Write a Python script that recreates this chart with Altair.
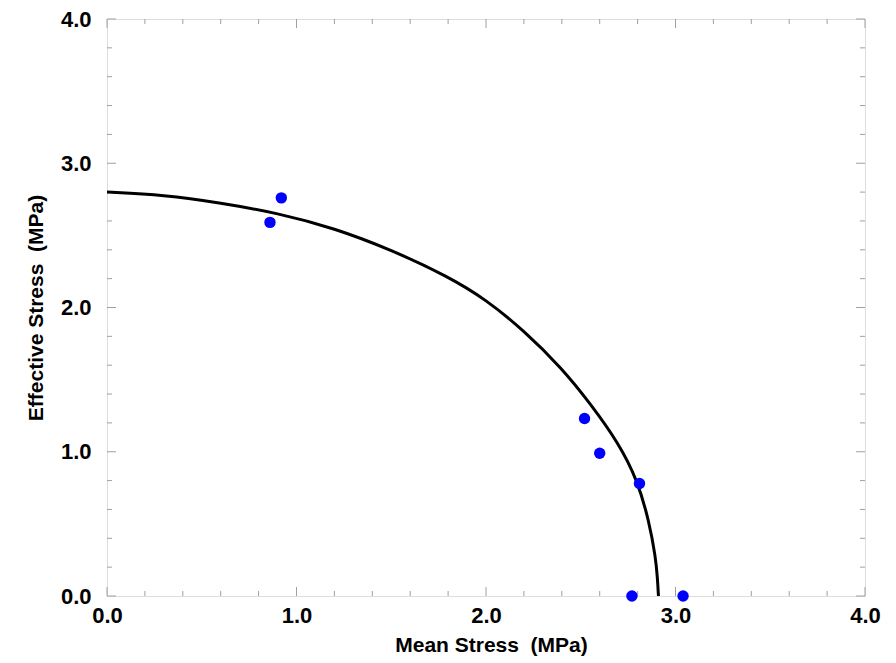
import altair as alt
import pandas as pd

# Yield-surface curve
curve_x = [0.0, 0.3, 0.6, 0.9, 1.2, 1.5, 1.8, 2.0, 2.2, 2.4, 2.55, 2.7, 2.8, 2.86, 2.895, 2.905, 2.91]
curve_y = [2.80, 2.78, 2.725, 2.655, 2.55, 2.40, 2.215, 2.055, 1.84, 1.58, 1.335, 1.06, 0.80, 0.52, 0.27, 0.12, 0.0]

# Measured points
pt_x = [0.86, 0.92, 2.52, 2.60, 2.81, 2.77, 3.04]
pt_y = [2.59, 2.76, 1.23, 0.99, 0.78, 0.0, 0.0]

major_ticks = [0.0, 1.0, 2.0, 3.0, 4.0]
minor_ticks = [0.2, 0.4, 0.6, 0.8, 1.2, 1.4, 1.6, 1.8, 2.2, 2.4, 2.6, 2.8, 3.2, 3.4, 3.6, 3.8]

W, H = 758, 577
FONT = "Liberation Sans"
GRAY = "#a0a0a0"
NB = "\u00a0"

curve = pd.DataFrame({"x": curve_x, "y": curve_y})
pts = pd.DataFrame({"x": pt_x, "y": pt_y})
maj = pd.DataFrame({"v": major_ticks})
mnr = pd.DataFrame({"v": minor_ticks})

xs = alt.Scale(domain=[0, 4], nice=False, zero=False)
ys = alt.Scale(domain=[0, 4], nice=False, zero=False)

xaxis = alt.Axis(
    title="Mean Stress" + NB + NB + "(MPa)", values=major_ticks, format=".1f", grid=False,
    ticks=False, domain=False, labelFont=FONT, labelFontSize=22, labelFontWeight="bold",
    labelColor="black", labelPadding=9, titleFont=FONT, titleFontSize=21,
    titleFontWeight="bold", titleColor="black", titleBaseline="alphabetic",
    titleY=55, titleX=384, labelFlush=False, labelOverlap=False,
)
yaxis = alt.Axis(
    title="Effective Stress" + NB + NB + "(MPa)", values=major_ticks, format=".1f", grid=False,
    ticks=False, domain=False, labelFont=FONT, labelFontSize=22, labelFontWeight="bold",
    labelColor="black", labelPadding=16, titleFont=FONT, titleFontSize=21,
    titleFontWeight="bold", titleColor="black", titleBaseline="alphabetic",
    titleX=-65, titleY=H / 2, titleAngle=-90, titleAlign="center",
    labelFlush=False, labelOverlap=False,
)

line = alt.Chart(curve).mark_line(color="black", strokeWidth=3, interpolate="basis").encode(
    x=alt.X("x:Q", scale=xs, axis=xaxis),
    y=alt.Y("y:Q", scale=ys, axis=yaxis),
    order="x:Q",
)

dots = alt.Chart(pts).mark_circle(color="#0000ff", size=130, opacity=1).encode(
    x=alt.X("x:Q", scale=xs, axis=xaxis),
    y=alt.Y("y:Q", scale=ys, axis=yaxis),
)


def xticks(df, length):
    bottom = alt.Chart(df).mark_rule(color=GRAY, strokeWidth=1).encode(
        x=alt.X("v:Q", scale=xs, axis=xaxis),
        y=alt.value(H), y2=alt.value(H - length),
    )
    top = alt.Chart(df).mark_rule(color=GRAY, strokeWidth=1).encode(
        x=alt.X("v:Q", scale=xs, axis=xaxis),
        y=alt.value(0), y2=alt.value(length),
    )
    return [bottom, top]


def yticks(df, length):
    left = alt.Chart(df).mark_rule(color=GRAY, strokeWidth=1).encode(
        y=alt.Y("v:Q", scale=ys, axis=yaxis),
        x=alt.value(0), x2=alt.value(length),
    )
    right = alt.Chart(df).mark_rule(color=GRAY, strokeWidth=1).encode(
        y=alt.Y("v:Q", scale=ys, axis=yaxis),
        x=alt.value(W), x2=alt.value(W - length),
    )
    return [left, right]


layers = xticks(maj, 9) + xticks(mnr, 5) + yticks(maj, 9) + yticks(mnr, 5) + [line, dots]

chart = alt.layer(*layers).properties(
    width=W, height=H,
    autosize=alt.AutoSizeParams(type="none"),
    padding={"left": 99, "top": 11, "right": 23, "bottom": 66},
).configure_view(stroke=GRAY, strokeWidth=1.5).configure(background="white")

chart.save("out.html", embed_options={"renderer": "svg", "actions": False})
